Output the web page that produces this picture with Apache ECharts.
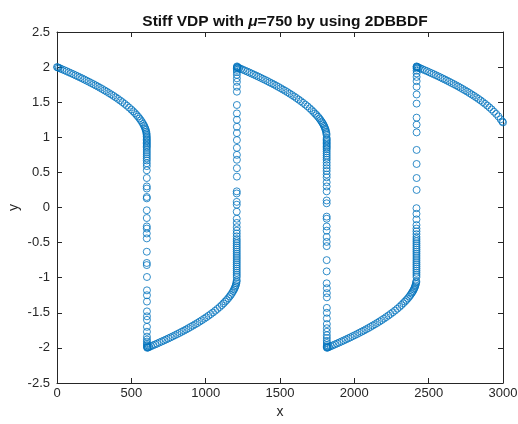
<!DOCTYPE html>
<html>
<head>
<meta charset="utf-8">
<script src="https://cdn.jsdelivr.net/npm/echarts@6/dist/echarts.min.js"></script>
<style>
html,body{margin:0;padding:0;background:#fff;}
#chart{width:518px;height:424px;}
</style>
</head>
<body>
<div id="chart"></div>
<script>
// Axis ticks
const xTicks = [0, 500, 1000, 1500, 2000, 2500, 3000];
const yTicks = [-2.5, -2, -1.5, -1, -0.5, 0, 0.5, 1, 1.5, 2, 2.5];

// Slow branch A (y from 2 down to 1)
const branchA_x = [0,5,12,22,35,50,65,80,95,110,125,140,155,170,185,200,215,230,245,260,275,290,305,320,335,350,365,380,395,410,425,440,455,470,485,500,512,524,535,545,555,564,572,579,585,590,594,597,600,602,603];
const branchA_y = [2.000,1.996,1.989,1.980,1.968,1.955,1.941,1.926,1.912,1.898,1.883,1.868,1.853,1.838,1.822,1.806,1.790,1.773,1.757,1.740,1.723,1.705,1.687,1.668,1.650,1.630,1.610,1.590,1.569,1.547,1.524,1.501,1.476,1.451,1.423,1.395,1.370,1.345,1.319,1.295,1.268,1.242,1.216,1.191,1.168,1.145,1.122,1.104,1.080,1.058,1.035];

// Jump 1 (down)
const jump1_x = [603.5,604,604,604,604,604,604,604,604,604,604,604,604,604,604,604,604,604,604,604,604,604,604,604,604,604,604,604,604,604,604,604,605,605,605,605,605,605,605,605,605,605,605,605,605,605,606,606];
const jump1_y = [1.012,0.99,0.97,0.95,0.93,0.91,0.89,0.87,0.85,0.82,0.79,0.76,0.73,0.70,0.67,0.63,0.59,0.53,0.42,0.30,0.27,0.15,0.13,-0.04,-0.15,-0.27,-0.30,-0.37,-0.44,-0.63,-0.79,-0.82,-0.99,-1.18,-1.25,-1.34,-1.48,-1.55,-1.60,-1.70,-1.77,-1.84,-1.88,-1.91,-1.94,-1.96,-1.98,-1.99];

// Slow branch B (y from -2 up to -1)
const branchB_x = [607,613,621,632,645,660,674,689,704,719,734,749,764,779,794,809,824,839,854,869,884,899,914,929,944,959,974,989,1004,1019,1034,1049,1064,1079,1094,1108,1120,1131,1142,1152,1162,1170,1178,1185,1191,1196,1200,1203,1206,1208,1209];
const branchB_y = [-1.999,-1.994,-1.986,-1.976,-1.964,-1.951,-1.938,-1.923,-1.909,-1.895,-1.880,-1.865,-1.850,-1.835,-1.819,-1.803,-1.787,-1.770,-1.754,-1.737,-1.719,-1.701,-1.683,-1.664,-1.646,-1.626,-1.606,-1.585,-1.564,-1.542,-1.519,-1.496,-1.471,-1.445,-1.418,-1.391,-1.366,-1.340,-1.317,-1.292,-1.265,-1.242,-1.216,-1.191,-1.168,-1.145,-1.122,-1.104,-1.080,-1.058,-1.035];

// Jump 2 (up)
const jump2_x = [1209,1209,1209,1209,1209,1209,1209,1209,1209,1209,1209,1209,1209,1209,1209,1209,1209,1209,1209,1209,1209,1209,1209,1209,1209,1209,1209,1209,1209,1209,1210,1210,1210,1210,1210,1210,1210,1210,1210,1210,1210,1210,1210,1210,1210,1210,1210,1210,1210,1210,1211];
const jump2_y = [-0.99,-0.96,-0.93,-0.90,-0.87,-0.84,-0.81,-0.78,-0.75,-0.72,-0.69,-0.66,-0.63,-0.60,-0.57,-0.54,-0.51,-0.48,-0.45,-0.41,-0.37,-0.33,-0.28,-0.22,-0.16,-0.06,0.04,0.08,0.20,0.23,0.44,0.56,0.68,0.75,0.85,0.96,1.06,1.15,1.25,1.34,1.46,1.65,1.72,1.79,1.84,1.89,1.93,1.96,1.98,2.00,2.01];

// Slow branch C
const branchC_x = [1212,1218,1226,1237,1250,1265,1280,1295,1310,1325,1340,1355,1370,1385,1400,1415,1430,1445,1460,1475,1490,1505,1520,1535,1550,1565,1580,1595,1610,1625,1640,1655,1670,1685,1700,1713,1725,1736,1746,1756,1765,1773,1780,1786,1791,1796,1800,1804,1807,1810,1812,1813];
const branchC_y = [1.998,1.993,1.985,1.975,1.964,1.950,1.936,1.922,1.907,1.893,1.878,1.863,1.848,1.832,1.817,1.801,1.784,1.768,1.752,1.734,1.717,1.699,1.680,1.662,1.643,1.623,1.603,1.582,1.560,1.538,1.515,1.491,1.466,1.441,1.413,1.387,1.362,1.337,1.316,1.292,1.268,1.245,1.222,1.203,1.186,1.163,1.145,1.122,1.104,1.080,1.058,1.035];

// Jump 3 (down)
const jump3_x = [1814,1814,1814,1814,1814,1814,1814,1814,1814,1814,1814,1814,1814,1814,1814,1814,1814,1814,1814,1814,1814,1814,1814,1814,1814,1814,1814,1814,1814,1814,1814,1814,1814,1814,1814,1815,1815,1815,1815,1815,1815,1815,1815,1815,1815,1815,1815,1815,1815,1815,1815];
const jump3_y = [0.99,0.97,0.95,0.93,0.91,0.89,0.87,0.85,0.83,0.80,0.77,0.74,0.71,0.68,0.64,0.60,0.56,0.52,0.47,0.43,0.36,0.30,0.23,0.10,0.06,-0.13,-0.16,-0.27,-0.33,-0.42,-0.49,-0.55,-0.75,-0.91,-1.08,-1.15,-1.22,-1.28,-1.43,-1.50,-1.58,-1.66,-1.72,-1.77,-1.82,-1.86,-1.90,-1.93,-1.96,-1.98,-1.99];

// Slow branch D
const branchD_x = [1816,1822,1830,1841,1854,1869,1884,1899,1914,1929,1944,1959,1974,1989,2004,2019,2034,2049,2064,2079,2094,2109,2124,2139,2154,2169,2184,2199,2214,2229,2244,2259,2274,2289,2304,2317,2329,2340,2350,2360,2369,2377,2384,2390,2395,2400,2404,2408,2411,2414,2416,2417];
const branchD_y = [-1.999,-1.994,-1.986,-1.976,-1.965,-1.951,-1.937,-1.923,-1.908,-1.894,-1.879,-1.864,-1.849,-1.833,-1.818,-1.802,-1.785,-1.769,-1.753,-1.735,-1.718,-1.700,-1.681,-1.663,-1.644,-1.624,-1.604,-1.583,-1.561,-1.539,-1.516,-1.493,-1.468,-1.442,-1.415,-1.389,-1.364,-1.340,-1.318,-1.295,-1.270,-1.248,-1.225,-1.206,-1.189,-1.168,-1.150,-1.128,-1.110,-1.087,-1.068,-1.050];

// Jump 4 (up)
const jump4_x = [2418,2418,2418,2418,2418,2418,2418,2418,2418,2418,2418,2418,2418,2418,2418,2418,2418,2418,2418,2418,2418,2418,2418,2418,2418,2418,2418,2419,2419,2419,2419,2419,2419,2419,2419,2419,2419,2419,2419,2419,2419,2419,2419,2419];
const jump4_y = [-0.99,-0.96,-0.93,-0.90,-0.87,-0.84,-0.81,-0.78,-0.75,-0.72,-0.69,-0.66,-0.63,-0.60,-0.57,-0.54,-0.51,-0.48,-0.45,-0.42,-0.38,-0.34,-0.30,-0.25,-0.17,-0.09,-0.01,0.25,0.42,0.62,0.82,1.07,1.18,1.28,1.48,1.61,1.72,1.80,1.86,1.91,1.95,1.98,2.00,2.01];

// Slow branch E
const branchE_x = [2421,2427,2435,2446,2459,2474,2489,2504,2519,2534,2549,2564,2579,2594,2609,2624,2639,2654,2669,2684,2699,2714,2729,2744,2759,2774,2789,2804,2819,2834,2849,2864,2879,2894,2909,2924,2939,2954,2969,2984,2995,3000];
const branchE_y = [2.003,1.998,1.991,1.981,1.969,1.955,1.942,1.927,1.913,1.899,1.884,1.869,1.854,1.838,1.823,1.807,1.791,1.774,1.758,1.741,1.724,1.706,1.688,1.669,1.651,1.631,1.611,1.591,1.570,1.548,1.526,1.502,1.478,1.452,1.425,1.397,1.364,1.333,1.298,1.257,1.226,1.212];

const segments = [
  [branchA_x, branchA_y], [jump1_x, jump1_y],
  [branchB_x, branchB_y], [jump2_x, jump2_y],
  [branchC_x, branchC_y], [jump3_x, jump3_y],
  [branchD_x, branchD_y], [jump4_x, jump4_y],
  [branchE_x, branchE_y]
];
const points = [];
segments.forEach(([xs, ys]) => {
  const n = Math.min(xs.length, ys.length);
  for (let i = 0; i < n; i++) points.push([xs[i], ys[i]]);
});

const AX = '#262626';
const FONT = 'Liberation Sans, Arial, Helvetica, sans-serif';
const xMin = xTicks[0], xMax = xTicks[xTicks.length - 1], xInt = xTicks[1] - xTicks[0];
const yMin = yTicks[0], yMax = yTicks[yTicks.length - 1], yInt = yTicks[1] - yTicks[0];
const plain = v => String(v);

function xAx(pos, labels) {
  return {
    type: 'value', position: pos, min: xMin, max: xMax, interval: xInt,
    axisLine: { show: true, onZero: false, lineStyle: { color: AX, width: 1 } },
    axisTick: { show: true, inside: true, length: 5, lineStyle: { color: AX, width: 1 } },
    axisLabel: { show: labels, color: AX, fontSize: 13, fontFamily: FONT, margin: 4, formatter: plain, hideOverlap: false },
    splitLine: { show: false },
    name: labels ? 'x' : '', nameLocation: 'middle', nameGap: 22, nameMoveOverlap: false,
    nameTextStyle: { color: AX, fontSize: 14, fontFamily: FONT }
  };
}
function yAx(pos, labels) {
  return {
    type: 'value', position: pos, min: yMin, max: yMax, interval: yInt,
    axisLine: { show: true, onZero: false, lineStyle: { color: AX, width: 1 } },
    axisTick: { show: true, inside: true, length: 5, lineStyle: { color: AX, width: 1 } },
    axisLabel: { show: labels, color: AX, fontSize: 13, fontFamily: FONT, margin: 7, formatter: plain, hideOverlap: false },
    splitLine: { show: false },
    name: labels ? 'y' : '', nameLocation: 'middle', nameGap: 36, nameRotate: 90, nameMoveOverlap: false,
    nameTextStyle: { color: AX, fontSize: 14, fontFamily: FONT }
  };
}

const chart = echarts.init(document.getElementById('chart'), null, { renderer: 'canvas' });
chart.setOption({
  animation: false,
  backgroundColor: '#ffffff',
  title: {
    text: '{b|Stiff VDP with }{i|μ}{b|=750 by using 2DBBDF}',
    left: 280, top: 9, textAlign: 'center',
    textStyle: {
      rich: {
        b: { fontWeight: 'bold', fontSize: 15.5, color: '#111', fontFamily: FONT },
        i: { fontStyle: 'italic', fontSize: 15.5, color: '#111', fontFamily: FONT }
      }
    }
  },
  grid: { left: 57, top: 32, width: 446, height: 351, containLabel: false, outerBoundsMode: 'none' },
  xAxis: [xAx('bottom', true), xAx('top', false)],
  yAxis: [yAx('left', true), yAx('right', false)],
  series: [{
    type: 'scatter',
    xAxisIndex: 0, yAxisIndex: 0,
    data: points,
    symbol: 'circle',
    symbolSize: 7,
    silent: true,
    itemStyle: { color: 'rgba(0,0,0,0)', borderColor: '#0072BD', borderWidth: 1 }
  }]
});
</script>
</body>
</html>
